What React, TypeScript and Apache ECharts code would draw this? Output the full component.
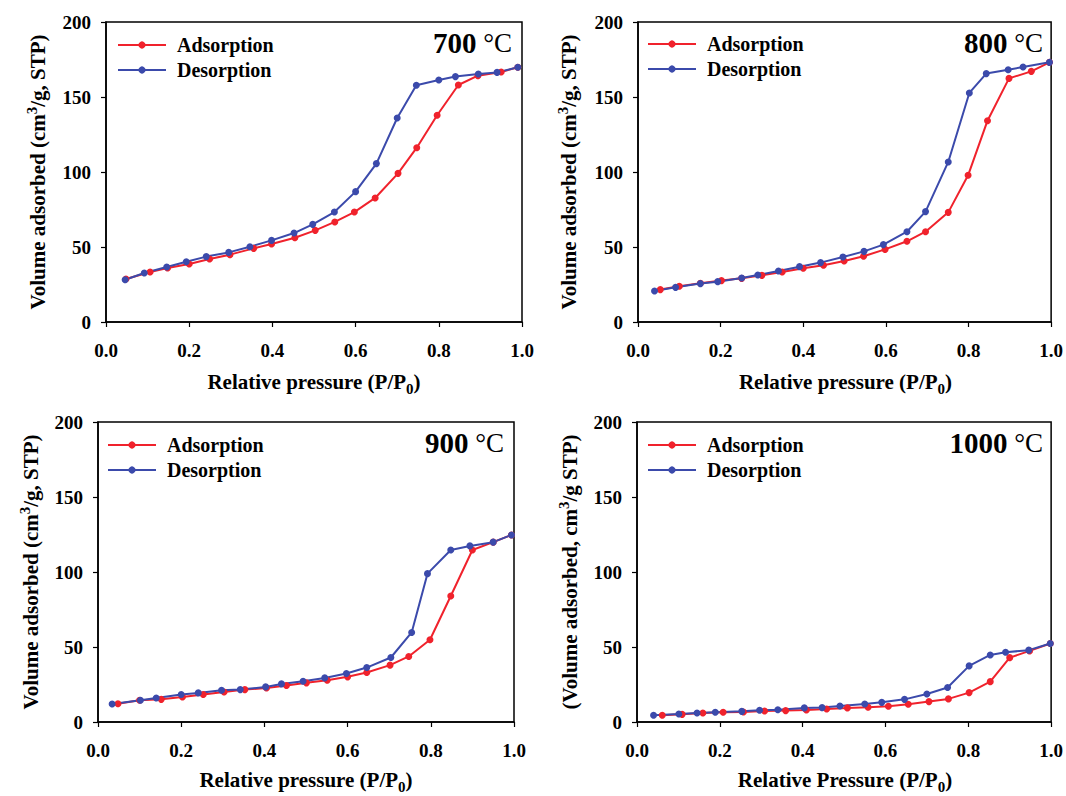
import React, { useEffect, useRef } from "react";
import * as echarts from "echarts";

// ---- Data ----
const xTicks = [0, 0.2, 0.4, 0.6, 0.8, 1.0];
const yTicks = [0, 50, 100, 150, 200];

const adsP700 = [0.048, 0.106, 0.148, 0.2, 0.249, 0.298, 0.355, 0.398, 0.454, 0.503, 0.55, 0.597, 0.647, 0.702, 0.747, 0.796, 0.847, 0.894, 0.95, 0.99];
const adsV700 = [28.7, 33.3, 36, 38.7, 42, 44.9, 49.1, 52, 56.2, 61.1, 66.7, 73.3, 82.7, 99.1, 116.2, 137.8, 158, 164.2, 166.7, 169.8];
const desP700 = [0.99, 0.94, 0.895, 0.84, 0.8, 0.746, 0.7, 0.65, 0.6, 0.549, 0.497, 0.452, 0.398, 0.346, 0.295, 0.241, 0.193, 0.146, 0.092, 0.046];
const desV700 = [169.8, 166.4, 165.3, 163.6, 161.3, 157.8, 136, 105.6, 86.9, 73.3, 65.1, 59.3, 54.4, 50.2, 46.4, 43.6, 40.2, 36.7, 32.7, 28.2];

const adsP800 = [0.054, 0.1, 0.151, 0.202, 0.251, 0.3, 0.349, 0.4, 0.449, 0.499, 0.546, 0.598, 0.651, 0.696, 0.751, 0.799, 0.846, 0.898, 0.952, 0.996];
const adsV800 = [21.6, 23.8, 25.8, 27.6, 29.1, 31.1, 33.3, 35.8, 37.8, 40.7, 43.8, 48.4, 53.8, 60.2, 73.1, 97.8, 134.2, 162.4, 167.1, 173.1];
const desP800 = [0.996, 0.932, 0.896, 0.843, 0.802, 0.751, 0.696, 0.651, 0.594, 0.547, 0.496, 0.442, 0.391, 0.34, 0.29, 0.251, 0.193, 0.151, 0.091, 0.04];
const desV800 = [173.1, 170, 168.2, 165.6, 152.7, 106.7, 73.6, 60.2, 51.6, 47.1, 43.3, 39.6, 36.9, 34, 31.3, 29.3, 26.9, 25.6, 23.1, 20.7];

const adsP900 = [0.048, 0.1, 0.152, 0.203, 0.253, 0.303, 0.353, 0.405, 0.453, 0.501, 0.551, 0.6, 0.646, 0.702, 0.747, 0.798, 0.848, 0.9, 0.95, 0.994];
const adsV900 = [12.2, 14.5, 15.1, 16.7, 18.3, 20, 21.6, 22.7, 24.3, 26.1, 27.8, 30.1, 33, 37.9, 43.7, 54.8, 84, 114.7, 119.9, 124.7];
const desP900 = [0.994, 0.95, 0.894, 0.848, 0.792, 0.754, 0.704, 0.646, 0.597, 0.545, 0.493, 0.441, 0.403, 0.342, 0.297, 0.241, 0.2, 0.14, 0.102, 0.034];
const desV900 = [124.7, 119.9, 117.4, 114.7, 98.9, 59.7, 43, 36.3, 32.3, 29.4, 27.2, 25.4, 23.4, 21.6, 21.2, 19.4, 18.3, 16, 14.5, 12];

const adsP1000 = [0.061, 0.109, 0.159, 0.208, 0.257, 0.308, 0.359, 0.409, 0.458, 0.508, 0.558, 0.607, 0.655, 0.705, 0.752, 0.802, 0.853, 0.9, 0.948, 0.998];
const adsV1000 = [4.5, 5.1, 6, 6.5, 6.7, 7.3, 7.6, 8, 8.7, 9.4, 9.8, 10.5, 11.8, 13.6, 15.4, 19.6, 26.9, 42.9, 47.4, 52.3];
const desP1000 = [0.998, 0.946, 0.89, 0.853, 0.802, 0.75, 0.7, 0.646, 0.591, 0.55, 0.49, 0.447, 0.404, 0.34, 0.296, 0.253, 0.189, 0.145, 0.101, 0.04];
const desV1000 = [52.3, 47.9, 46.5, 44.7, 37.4, 23, 18.7, 15.1, 13.1, 12, 10.7, 9.6, 9.4, 8.2, 7.8, 7.1, 6.5, 6, 5.3, 4.5];

const temperatures = ["700", "800", "900", "1000"];
const seriesNames = ["Adsorption", "Desorption"];
const xTitles = [
  "Relative pressure",
  "Relative pressure",
  "Relative pressure",
  "Relative Pressure",
];

const panels = [
  { ads: [adsP700, adsV700], des: [desP700, desV700] },
  { ads: [adsP800, adsV800], des: [desP800, desV800] },
  { ads: [adsP900, adsV900], des: [desP900, desV900] },
  { ads: [adsP1000, adsV1000], des: [desP1000, desV1000] },
];

// ---- Layout ----
const FONT = "'Liberation Serif', 'Times New Roman', serif";
const RED = "#F0222C";
const BLUE = "#3B4AAB";
const grids = [
  { left: 106, top: 22, width: 416, height: 300 },
  { left: 638, top: 22, width: 415, height: 300 },
  { left: 98, top: 422, width: 416, height: 300 },
  { left: 637, top: 422, width: 416, height: 300 },
];

function pairs(xs: number[], ys: number[]) {
  return xs.map((x, i) => [x, ys[i]]);
}

export default function App() {
  const ref = useRef<HTMLDivElement>(null);
  useEffect(() => {
    if (!ref.current) return;
    const chart = echarts.init(ref.current, undefined, { renderer: "svg" });

    const grid = grids.map((g) => ({
      ...g,
      show: true,
      borderColor: "#000",
      borderWidth: 1.5,
      backgroundColor: "#fff",
      containLabel: false,
    }));

    const xAxis = grids.map((_, i) => ({
      gridIndex: i,
      type: "value",
      min: xTicks[0],
      max: xTicks[xTicks.length - 1],
      interval: 0.2,
      axisLine: { show: true, onZero: false, lineStyle: { color: "#000", width: 1.5 } },
      axisTick: { show: true, inside: false, length: 5, lineStyle: { color: "#000", width: 1.2 } },
      axisLabel: {
        formatter: (v: number) => v.toFixed(1),
        fontFamily: FONT,
        fontWeight: "bold",
        fontSize: 19,
        color: "#000",
        margin: 19,
      },
      splitLine: { show: false },
    }));

    const yAxis = grids.map((_, i) => ({
      gridIndex: i,
      type: "value",
      min: yTicks[0],
      max: yTicks[yTicks.length - 1],
      interval: 50,
      axisLine: { show: true, onZero: false, lineStyle: { color: "#000", width: 1.5 } },
      axisTick: { show: true, inside: false, length: 5, lineStyle: { color: "#000", width: 1.2 } },
      axisLabel: {
        fontFamily: FONT,
        fontWeight: "bold",
        fontSize: 19,
        color: "#000",
        margin: 15,
      },
      splitLine: { show: false },
    }));

    const series: any[] = [];
    panels.forEach((p, i) => {
      series.push({
        name: seriesNames[0],
        type: "line",
        xAxisIndex: i,
        yAxisIndex: i,
        data: pairs(p.ads[0], p.ads[1]),
        symbol: "circle",
        symbolSize: 7,
        color: RED,
        lineStyle: { color: RED, width: 2 },
        itemStyle: { color: RED },
      });
      series.push({
        name: seriesNames[1],
        type: "line",
        xAxisIndex: i,
        yAxisIndex: i,
        data: pairs(p.des[0], p.des[1]),
        symbol: "circle",
        symbolSize: 7,
        color: BLUE,
        lineStyle: { color: BLUE, width: 2 },
        itemStyle: { color: BLUE },
      });
    });

    const legendPos = [
      { left: 117, top: 35 },
      { left: 647, top: 34 },
      { left: 107, top: 435 },
      { left: 647, top: 435 },
    ];
    const legend = legendPos.map((lp) => ({
      ...lp,
      orient: "vertical",
      itemWidth: 48,
      itemHeight: 9,
      itemGap: 5,
      padding: 0,
      data: seriesNames,
      selectedMode: false,
      textStyle: {
        fontFamily: FONT,
        fontWeight: "bold",
        fontSize: 20,
        color: "#000",
        padding: [0, 0, 0, 6],
      },
    }));

    const mainRich = {
      a: { fontFamily: FONT, fontWeight: "bold", fontSize: 21, lineHeight: 28, fill: "#000", verticalAlign: "middle" },
      s: { fontFamily: FONT, fontWeight: "bold", fontSize: 15, lineHeight: 15, fill: "#000", verticalAlign: "top" },
      u: { fontFamily: FONT, fontWeight: "bold", fontSize: 15, lineHeight: 15, fill: "#000", verticalAlign: "bottom" },
    };

    const graphic: any[] = [];
    const yTitleX = [38, 569, 31, 570];
    const yTitleTexts = [
      "{a|Volume adsorbed (cm}{s|3}{a|/g, STP)}",
      "{a|Volume adsorbed (cm}{s|3}{a|/g, STP)}",
      "{a|Volume adsorbed (cm}{s|3}{a|/g, STP)}",
      "{a|(Volume adsorbed, cm}{s|3}{a|/g STP)}",
    ];
    const xTitleY = [382, 382, 780, 780];
    grids.forEach((g, i) => {
      graphic.push({
        type: "text",
        x: yTitleX[i],
        y: g.top + g.height / 2,
        rotation: Math.PI / 2,
        style: {
          text: yTitleTexts[i],
          rich: mainRich,
          align: "center",
          verticalAlign: "middle",
        },
      });
      graphic.push({
        type: "text",
        x: g.left + g.width / 2,
        y: xTitleY[i],
        style: {
          text: `{a|${xTitles[i]} (P/P}{u|0}{a|)}`,
          rich: mainRich,
          align: "center",
          verticalAlign: "middle",
        },
      });
      graphic.push({
        type: "text",
        x: g.left + g.width - 10,
        y: g.top + 21,
        style: {
          text: `{b|${temperatures[i]}}{n| °C}`,
          rich: {
            b: { fontFamily: FONT, fontWeight: "bold", fontSize: 29, fill: "#000" },
            n: { fontFamily: FONT, fontWeight: "normal", fontSize: 27, fill: "#000" },
          },
          align: "right",
          verticalAlign: "middle",
        },
      });
    });

    chart.setOption({
      animation: false,
      backgroundColor: "#fff",
      grid,
      xAxis,
      yAxis,
      series,
      legend,
      graphic,
    });
    return () => chart.dispose();
  }, []);

  return (
    <div
      ref={ref}
      style={{ position: "absolute", left: 0, top: 0, width: 1066, height: 796 }}
    />
  );
}
